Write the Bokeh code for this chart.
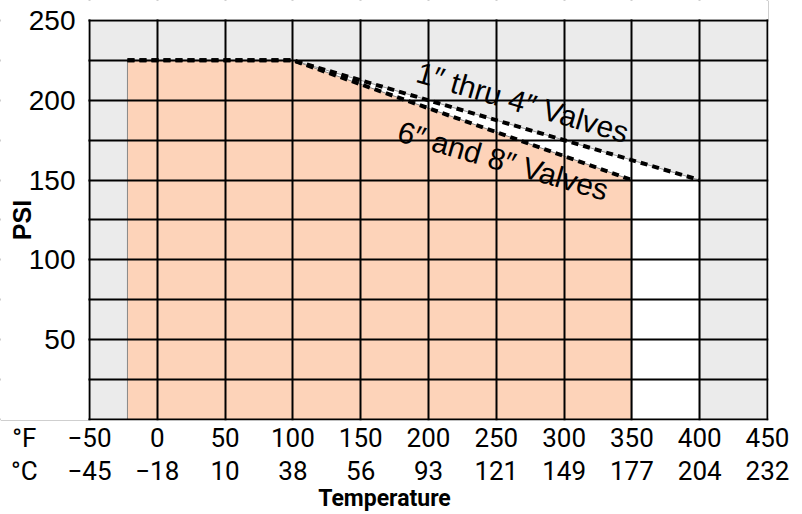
from bokeh.plotting import figure
from bokeh.models import FixedTicker, LinearAxis, Label, BoxAnnotation
from bokeh.embed import file_html
from bokeh.resources import INLINE

# ---- data ----
temp_f_ticks = [-50, 0, 50, 100, 150, 200, 250, 300, 350, 400, 450]
temp_f_labels = ["−50", "0", "50", "100", "150", "200", "250", "300", "350", "400", "450"]
temp_c_labels = ["−45", "−18", "10", "38", "56", "93", "121", "149", "177", "204", "232"]
unit_label_pos = -98          # where the unit names sit, left of the first tick
psi_ticks = [50, 100, 150, 200, 250]
psi_grid = [0, 25, 50, 75, 100, 125, 150, 175, 200, 225, 250]

small_valves_temp = [-22, 100, 400]   # 1" thru 4" valves
small_valves_psi = [225, 225, 150]
large_valves_temp = [-22, 100, 350]   # 6" and 8" valves
large_valves_psi = [225, 225, 150]

NARROW = "Roboto"
REG = "Liberation Sans"

# layout: the chart area (−50..450 °F, 0..250 psi) occupies 89..767 x 20..420 px;
# the frame extends to the left/top edges so that the unit names and the
# y labels can sit on the real axes without being clipped.
px_per_f = 678 / 500
px_per_psi = 400 / 250
x_start = temp_f_ticks[0] - 89 / px_per_f
x_end = temp_f_ticks[-1] + 1 / px_per_f
y_start = psi_grid[0] - 1 / px_per_psi
y_end = psi_grid[-1] + 20 / px_per_psi

p = figure(width=802, height=514,
           x_range=(x_start, x_end), y_range=(y_start, y_end),
           output_backend="svg", toolbar_location=None,
           min_border_left=0, min_border_right=34, min_border_top=0, min_border_bottom=93)
p.background_fill_color = "white"
p.border_fill_color = "white"
p.outline_line_color = None

# chart background
p.quad(left=temp_f_ticks[0], right=temp_f_ticks[-1], bottom=psi_grid[0], top=psi_grid[-1],
       fill_color="#ebebeb", line_color=None, level="image")

# fills
p.patch(small_valves_temp[1:] + [small_valves_temp[-1], small_valves_temp[1]],
        small_valves_psi[1:] + [0, 0],
        fill_color="white", line_color="#999999", line_width=1, level="image")
p.patch(large_valves_temp + [large_valves_temp[-1], large_valves_temp[0]],
        large_valves_psi + [0, 0],
        fill_color="#fdd3b9", line_color="#888888", line_width=1, level="image")

# grid
p.xgrid.ticker = FixedTicker(ticks=temp_f_ticks)
p.ygrid.ticker = FixedTicker(ticks=psi_grid)
for g in (p.xgrid, p.ygrid):
    g.grid_line_color = "black"
    g.grid_line_width = 2
    g.grid_line_alpha = 1

# white masks so the grid stays inside the chart area
p.add_layout(BoxAnnotation(right=temp_f_ticks[0] - 1.2 / px_per_f, fill_color="white",
                           fill_alpha=1, line_color=None, level="glyph"))
p.add_layout(BoxAnnotation(bottom=psi_grid[-1] + 1.2 / px_per_psi, fill_color="white",
                           fill_alpha=1, line_color=None, level="glyph"))

# dashed rating lines
p.line(small_valves_temp, small_valves_psi, line_color="black", line_width=4, line_dash="7 5")
p.line(large_valves_temp, large_valves_psi, line_color="black", line_width=4, line_dash="7 5")

# x axis (F)
xa = p.xaxis[0]
xa.ticker = FixedTicker(ticks=[unit_label_pos] + temp_f_ticks)
xa.major_label_overrides = {unit_label_pos: "°F", **{t: l for t, l in zip(temp_f_ticks, temp_f_labels)}}

# x axis (C)
xc = LinearAxis(ticker=FixedTicker(ticks=[unit_label_pos] + temp_f_ticks),
                major_label_overrides={unit_label_pos: "°C", **{t: l for t, l in zip(temp_f_ticks, temp_c_labels)}},
                axis_label="Temperature")
p.add_layout(xc, "below")

for ax in (xa, xc):
    ax.axis_line_color = None
    ax.major_tick_line_color = None
    ax.minor_tick_line_color = None
    ax.major_label_text_font = NARROW
    ax.major_label_text_font_size = "26px"
    ax.major_label_text_color = "black"
xa.major_label_standoff = -4
xc.major_label_standoff = -6
xc.axis_label_text_font = NARROW
xc.axis_label_text_font_style = "bold"
xc.axis_label_text_font_size = "23px"
xc.axis_label_standoff = -4
xc.axis_label_text_color = "black"

ya = p.yaxis[0]
ya.fixed_location = temp_f_ticks[0]
ya.bounds = (psi_grid[0], psi_grid[-1])
ya.ticker = FixedTicker(ticks=psi_ticks)
ya.axis_line_color = None
ya.major_tick_line_color = None
ya.minor_tick_line_color = None
ya.major_label_text_font = REG
ya.major_label_text_font_size = "28px"
ya.major_label_text_color = "black"
ya.major_label_standoff = 8
ya.axis_label = "PSI"
ya.axis_label_text_font = REG
ya.axis_label_text_font_style = "bold"
ya.axis_label_text_font_size = "25px"
ya.axis_label_standoff = -10
ya.axis_label_text_color = "black"

# series labels
p.add_layout(Label(x=191.9, y=218.0, text="1″ thru 4″ Valves", angle=-0.285,
                   text_font=REG, text_font_size="30px", text_align="left",
                   text_baseline="alphabetic", text_color="black"))
p.add_layout(Label(x=177.9, y=181.0, text="6″ and 8″ Valves", angle=-0.28,
                   text_font=REG, text_font_size="30px", text_align="left",
                   text_baseline="alphabetic", text_color="black"))

open("out.html", "w").write(file_html(p, INLINE))
